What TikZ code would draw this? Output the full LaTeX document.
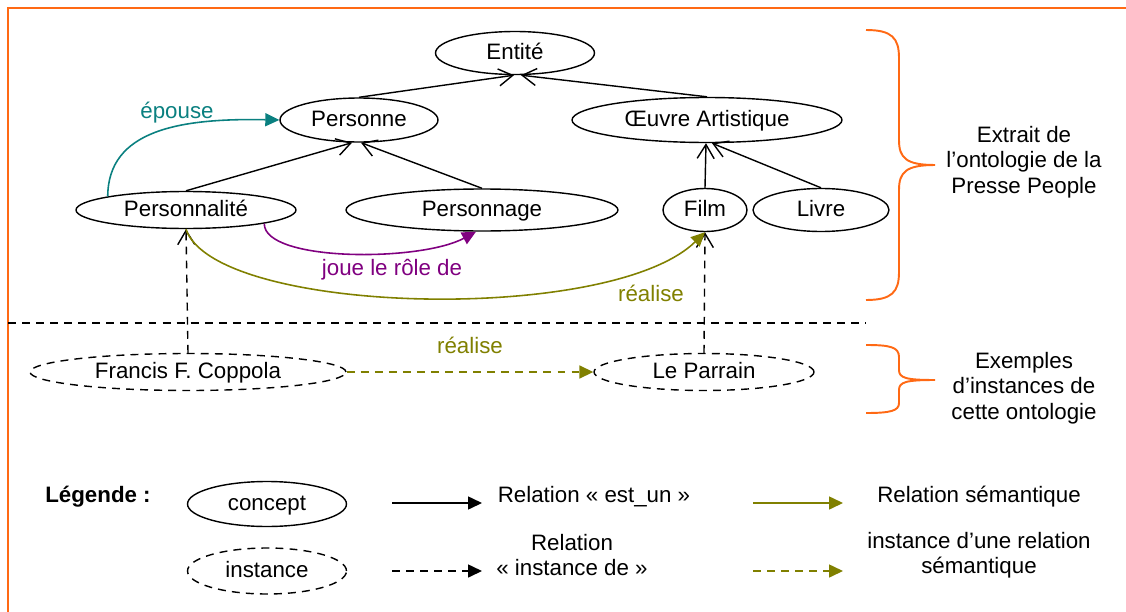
\documentclass[tikz,border=0pt]{standalone}
\usepackage{fontspec}
\setmainfont{Liberation Sans}
\usetikzlibrary{arrows.meta,shapes.geometric}
\definecolor{cadre}{RGB}{255,105,20}
\definecolor{semteal}{RGB}{10,128,128}
\definecolor{sempurple}{RGB}{128,0,128}
\definecolor{semolive}{RGB}{128,128,0}
\tikzset{
  concept/.style={draw, ellipse, line width=0.8pt, inner sep=0pt, text height=0.72em, text depth=0pt},
  instance/.style={concept, dash pattern=on 4.5pt off 3.5pt},
  isa/.style={-{Straight Barb[length=0.28cm,width=0.34cm]}, line width=0.8pt},
  instof/.style={isa, dash pattern=on 4.5pt off 3.5pt},
  sem/.style={-{Triangle[length=0.28cm,width=0.26cm]}, line width=0.9pt},
  semdash/.style={sem, dash pattern=on 4.5pt off 3.5pt},
  accolade/.style={cadre, line width=1.1pt},
}
\begin{document}
\begin{tikzpicture}[x=0.02cm, y=-0.02cm, font=\fontsize{12.7}{14.5}\selectfont]
      \useasboundingbox (0,0) rectangle (1126,612);
      \draw[cadre, line width=1.5pt] (1130,8) -- (8,8) -- (8,616);
      \draw
        (515,53) node[concept, minimum width=3.18cm, minimum height=0.86cm] (entite){Entité}
        (359,120) node[concept, minimum width=3.16cm, minimum height=0.88cm] (personne){Personne}
        (707,120) node[concept, minimum width=5.4cm, minimum height=0.9cm] (oeuvre){Œuvre Artistique}
        (186,210) node[concept, minimum width=4.4cm, minimum height=0.74cm] (personnalite){Personnalité}
        (482,210) node[concept, minimum width=5.44cm, minimum height=0.84cm] (personnage){Personnage}
        (705,210) node[concept, minimum width=1.68cm, minimum height=0.86cm] (film){Film}
        (821,210) node[concept, minimum width=2.72cm, minimum height=0.86cm] (livre){Livre}
        (188,372) node[instance, minimum width=6.32cm, minimum height=0.74cm] (coppola){Francis F. Coppola}
        (704,372) node[instance, minimum width=4.4cm, minimum height=0.74cm] (parrain){Le Parrain};
      \begin{scope}[isa]
        \draw (personne.north) to ([xshift=-0.02cm]entite.south);
        \draw (oeuvre.north) to ([xshift=0.12cm]entite.south);
        \draw (personnalite.north) to ([xshift=-0.14cm]personne.south);
        \draw (personnage.north) to ([xshift=0.04cm]personne.south);
        \draw (film.north) to ([xshift=-0.02cm]oeuvre.south);
        \draw (livre.north) to ([xshift=0.1cm]oeuvre.south);
      \end{scope}
      \begin{scope}[instof]
        \draw (coppola.north) to (personnalite.south);
        \draw (parrain.north) to (film.south);
      \end{scope}
      \draw[sem, semteal] (personnalite.north west) .. controls (108,130) and (180,118) .. (personne.west);
      \draw[sem, sempurple] (personnalite.south east) .. controls (264,262) and (420,262) .. ([xshift=-0.12cm]personnage.south);
      \draw[sem, semolive] (personnalite.south) .. controls (215,315) and (610,325) .. (film.south);
      \draw[semdash, semolive] (coppola.east) to (parrain.west);
      \draw
        (177,113) node[semteal] (lepouse){épouse}
        (392,270) node[sempurple] (ljoue){joue le rôle de}
        (651,293) node[semolive] (lrealise){réalise}
        (470,345) node[semolive] (lrealiseinst){réalise};
      \draw[line width=0.8pt, dash pattern=on 4.5pt off 3.5pt] (8,323) -- (866,323);
      \draw[accolade] (866,30) .. controls (892,30) and (899,38) .. (899,58) -- (899,140)
        .. controls (899,158) and (906,165) .. (935,165)
        .. controls (906,165) and (899,172) .. (899,190) -- (899,272)
        .. controls (899,292) and (892,300) .. (866,300);
      \draw[accolade] (866,345) .. controls (890,345) and (899,347) .. (899,357) -- (899,370)
        .. controls (899,378) and (906,380) .. (935,380)
        .. controls (906,380) and (899,382) .. (899,390) -- (899,403)
        .. controls (899,411) and (890,413) .. (866,413);
      \draw
        (1024,162) node[align=center] (extrait){Extrait de\\l’ontologie de la\\Presse People}
        (1024,388) node[align=center] (exemples){Exemples\\d’instances de\\cette ontologie};
      \draw
        (98,497) node (legende){\textbf{Légende :}}
        (267,504) node[concept, minimum width=3.18cm, minimum height=0.9cm] (lconcept){concept}
        (267,571) node[instance, minimum width=3.18cm, minimum height=0.92cm] (linstance){instance}
        (594,497) node (lestun){Relation « est\_un »}
        (572,555) node[align=center] (linstde){Relation\\« instance de »}
        (979,497) node (lsem){Relation sémantique}
        (979,555) node[align=center] (linstsem){instance d’une relation\\sémantique};
      \coordinate (a1) at (392,503);
      \coordinate (b1) at (482,503);
      \coordinate (a2) at (392,571);
      \coordinate (b2) at (482,571);
      \coordinate (a3) at (753,503);
      \coordinate (b3) at (843,503);
      \coordinate (a4) at (753,571);
      \coordinate (b4) at (843,571);
      \begin{scope}[sem]
        \draw (a1) to (b1);
        \draw[semdash] (a2) to (b2);
        \draw[semolive] (a3) to (b3);
        \draw[semdash, semolive] (a4) to (b4);
      \end{scope}
    \end{tikzpicture}
\end{document}
